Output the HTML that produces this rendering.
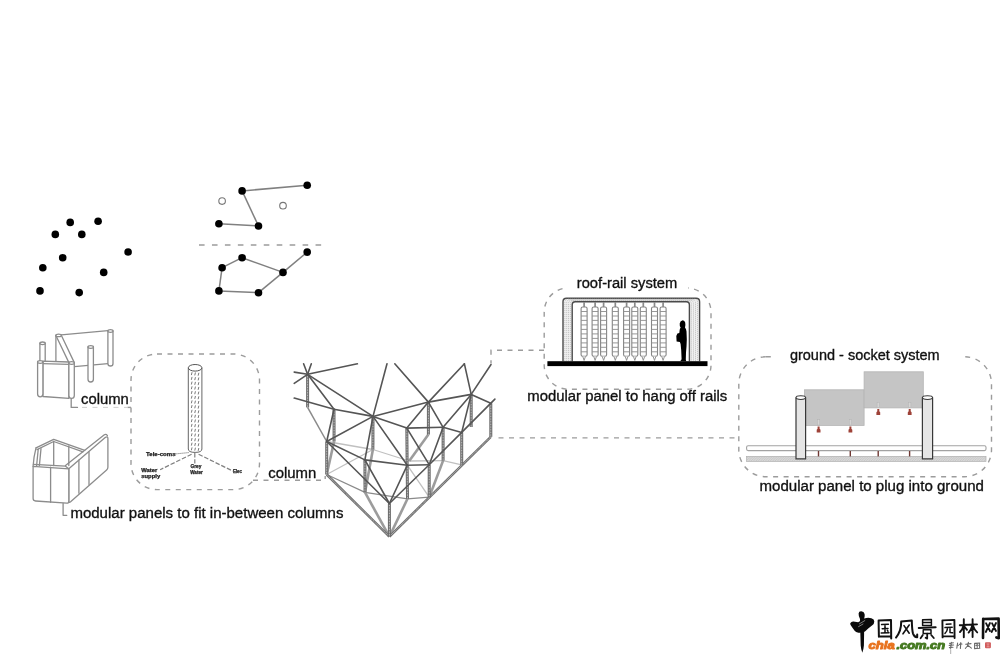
<!DOCTYPE html>
<html><head><meta charset="utf-8"><title>diagram</title>
<style>
html,body{margin:0;padding:0;background:#fff;}
body{width:1000px;height:654px;overflow:hidden;font-family:"Liberation Sans",sans-serif;}
svg{display:block;will-change:transform;filter:blur(0.35px);}
text{font-family:"Liberation Sans",sans-serif;fill:#111;}
.gl{stroke:#808080;stroke-width:1.5;fill:none;}
.dash{stroke:#9c9c9c;stroke-width:1.4;stroke-dasharray:5 5.5;fill:none;}
.dl{stroke:#555;stroke-width:1.6;stroke-linecap:round;fill:none;}
.tl{stroke:#c0c0c0;stroke-width:1.3;fill:none;}
.fl2{stroke:#8a8a8a;stroke-width:1.5;fill:none;}
.fl{stroke:#8a8a8a;stroke-width:1.2;fill:none;}
.kl{stroke:#9c9c9c;stroke-width:2.6;fill:none;}
.kd{stroke:#707070;stroke-width:2.5;fill:none;}
.col{stroke:#6a6a6a;stroke-width:3;fill:none;}
.colin{stroke:#cdcdcd;stroke-width:1;stroke-dasharray:0.9 0.7;fill:none;}
.sk{stroke:#8c8c8c;stroke-width:1.3;fill:#fff;stroke-linejoin:round;stroke-linecap:round;}
.skn{stroke:#8c8c8c;stroke-width:1.3;fill:none;stroke-linejoin:round;stroke-linecap:round;}
.lbl text{font-size:15.5px;stroke:#111;stroke-width:0.35px;}
.lbl rect{stroke:none;}
.tiny{font-size:4.8px;font-weight:bold;fill:#222;stroke:#222;stroke-width:0.25px;}
</style></head>
<body>
<svg width="1000" height="654" viewBox="0 0 1000 654">
<rect width="1000" height="654" fill="#fff"/>
<g id="dots">
<line class="gl" x1="242.1" y1="190.9" x2="307.2" y2="185.3"/>
<line class="gl" x1="242.1" y1="190.9" x2="258.5" y2="226.0"/>
<line class="gl" x1="218.9" y1="223.8" x2="258.5" y2="226.0"/>
<line class="gl" x1="222.1" y1="267.7" x2="242.1" y2="257.7"/>
<line class="gl" x1="242.1" y1="257.7" x2="283.0" y2="272.4"/>
<line class="gl" x1="283.0" y1="272.4" x2="307.2" y2="252.1"/>
<line class="gl" x1="283.0" y1="272.4" x2="258.5" y2="292.7"/>
<line class="gl" x1="258.5" y1="292.7" x2="218.9" y2="290.9"/>
<line class="gl" x1="218.9" y1="290.9" x2="222.1" y2="267.7"/>
<line class="dash" x1="199" y1="245.1" x2="322.6" y2="245.1" style="stroke-dasharray:5.6 7.35;stroke-width:1.5"/>
<circle cx="70.2" cy="222.4" r="3.8" fill="#000"/>
<circle cx="98.1" cy="221.3" r="3.8" fill="#000"/>
<circle cx="55.3" cy="234.4" r="3.8" fill="#000"/>
<circle cx="81.8" cy="234.4" r="3.8" fill="#000"/>
<circle cx="128.1" cy="252" r="3.8" fill="#000"/>
<circle cx="62.7" cy="257.7" r="3.8" fill="#000"/>
<circle cx="42.8" cy="267.8" r="3.8" fill="#000"/>
<circle cx="103.7" cy="272.4" r="3.8" fill="#000"/>
<circle cx="40" cy="290.9" r="3.8" fill="#000"/>
<circle cx="79.2" cy="292.6" r="3.8" fill="#000"/>
<circle cx="242.1" cy="190.9" r="3.8" fill="#000"/>
<circle cx="307.2" cy="185.3" r="3.8" fill="#000"/>
<circle cx="218.9" cy="223.8" r="3.8" fill="#000"/>
<circle cx="258.5" cy="226.0" r="3.8" fill="#000"/>
<circle cx="307.2" cy="252.1" r="3.8" fill="#000"/>
<circle cx="242.1" cy="257.7" r="3.8" fill="#000"/>
<circle cx="222.1" cy="267.7" r="3.8" fill="#000"/>
<circle cx="283.0" cy="272.4" r="3.8" fill="#000"/>
<circle cx="218.9" cy="290.9" r="3.8" fill="#000"/>
<circle cx="258.5" cy="292.7" r="3.8" fill="#000"/>
<circle cx="222.1" cy="201.1" r="3.3" fill="#fff" stroke="#777" stroke-width="1.1"/>
<circle cx="283.0" cy="205.7" r="3.3" fill="#fff" stroke="#777" stroke-width="1.1"/>
</g>
<g id="struct">
<line class="tl" x1="326.7" y1="441.5" x2="372.9" y2="449.5"/>
<line class="tl" x1="326.7" y1="474.5" x2="372.9" y2="449.5"/>
<line class="tl" x1="372.9" y1="449.5" x2="409.2" y2="461.0"/>
<line class="tl" x1="407.3" y1="465.2" x2="429.2" y2="497.2"/>
<line class="tl" x1="409.2" y1="461.0" x2="443.1" y2="460.6"/>
<line class="tl" x1="443.1" y1="460.6" x2="461.7" y2="464.8"/>
<line class="fl" x1="326.7" y1="474.5" x2="365.0" y2="492.4"/>
<line class="fl" x1="365.0" y1="492.4" x2="407.5" y2="498.8"/>
<line class="fl" x1="407.5" y1="498.8" x2="429.2" y2="497.2"/>
<line class="fl2" x1="307.6" y1="407.4" x2="326.7" y2="441.5"/>
<line class="kl" x1="334.1" y1="441.5" x2="326.7" y2="474.5"/>
<line class="kl" x1="372.9" y1="449.5" x2="365.0" y2="492.4"/>
<line class="kl" x1="428.4" y1="434.6" x2="409.2" y2="461.0"/>
<line class="kl" x1="443.1" y1="460.6" x2="429.2" y2="497.2"/>
<line class="kl" x1="407.5" y1="498.8" x2="389.4" y2="536.6"/>
<line class="kl" x1="365.0" y1="492.4" x2="389.4" y2="536.6"/>
<line class="kd" x1="326.7" y1="474.5" x2="389.4" y2="536.6"/>
<line class="colin" x1="326.7" y1="474.5" x2="389.4" y2="536.6"/>
<line class="kd" x1="490.8" y1="436.8" x2="389.4" y2="536.6"/>
<line class="colin" x1="490.8" y1="436.8" x2="389.4" y2="536.6"/>
<line class="col" x1="307.6" y1="374.3" x2="307.6" y2="407.4"/>
<line class="colin" x1="307.6" y1="374.3" x2="307.6" y2="407.4"/>
<line class="col" x1="334.0" y1="409.2" x2="334.1" y2="441.5"/>
<line class="colin" x1="334.0" y1="409.2" x2="334.1" y2="441.5"/>
<line class="col" x1="373.0" y1="416.4" x2="372.9" y2="449.5"/>
<line class="colin" x1="373.0" y1="416.4" x2="372.9" y2="449.5"/>
<line class="col" x1="326.7" y1="441.5" x2="326.7" y2="474.5"/>
<line class="colin" x1="326.7" y1="441.5" x2="326.7" y2="474.5"/>
<line class="col" x1="428.4" y1="402.1" x2="428.4" y2="434.6"/>
<line class="colin" x1="428.4" y1="402.1" x2="428.4" y2="434.6"/>
<line class="col" x1="471.2" y1="394.4" x2="471.2" y2="427.0"/>
<line class="colin" x1="471.2" y1="394.4" x2="471.2" y2="427.0"/>
<line class="col" x1="490.8" y1="403.3" x2="490.8" y2="436.8"/>
<line class="colin" x1="490.8" y1="403.3" x2="490.8" y2="436.8"/>
<line class="col" x1="406.8" y1="428.1" x2="407.5" y2="498.8"/>
<line class="colin" x1="406.8" y1="428.1" x2="407.5" y2="498.8"/>
<line class="col" x1="443.1" y1="427.3" x2="443.1" y2="460.6"/>
<line class="colin" x1="443.1" y1="427.3" x2="443.1" y2="460.6"/>
<line class="col" x1="461.7" y1="432.4" x2="461.7" y2="464.8"/>
<line class="colin" x1="461.7" y1="432.4" x2="461.7" y2="464.8"/>
<line class="col" x1="429.2" y1="464.7" x2="429.2" y2="497.2"/>
<line class="colin" x1="429.2" y1="464.7" x2="429.2" y2="497.2"/>
<line class="col" x1="364.9" y1="459.9" x2="365.0" y2="492.4"/>
<line class="colin" x1="364.9" y1="459.9" x2="365.0" y2="492.4"/>
<line class="col" x1="389.4" y1="503.5" x2="389.4" y2="536.6"/>
<line class="colin" x1="389.4" y1="503.5" x2="389.4" y2="536.6"/>
<line class="dl" x1="307.6" y1="374.3" x2="303.6" y2="363.8"/>
<line class="dl" x1="307.6" y1="374.3" x2="311.3" y2="363.8"/>
<line class="dl" x1="307.6" y1="374.3" x2="294.2" y2="372.1"/>
<line class="dl" x1="307.6" y1="374.3" x2="294.2" y2="383.4"/>
<line class="dl" x1="307.6" y1="374.3" x2="357.4" y2="363.8"/>
<line class="dl" x1="294.2" y1="398.1" x2="334.0" y2="409.2"/>
<line class="dl" x1="307.6" y1="374.3" x2="334.0" y2="409.2"/>
<line class="dl" x1="307.6" y1="374.3" x2="373.0" y2="416.4"/>
<line class="dl" x1="334.0" y1="409.2" x2="373.0" y2="416.4"/>
<line class="dl" x1="334.0" y1="409.2" x2="326.7" y2="441.5"/>
<line class="dl" x1="373.0" y1="416.4" x2="326.7" y2="441.5"/>
<line class="dl" x1="373.0" y1="416.4" x2="428.4" y2="402.1"/>
<line class="dl" x1="373.0" y1="416.4" x2="406.8" y2="428.1"/>
<line class="dl" x1="373.0" y1="416.4" x2="407.3" y2="465.2"/>
<line class="dl" x1="373.0" y1="416.4" x2="364.9" y2="459.9"/>
<line class="dl" x1="428.4" y1="402.1" x2="406.8" y2="428.1"/>
<line class="dl" x1="428.4" y1="402.1" x2="471.2" y2="394.4"/>
<line class="dl" x1="428.4" y1="402.1" x2="443.1" y2="427.3"/>
<line class="dl" x1="428.4" y1="402.1" x2="464.4" y2="363.8"/>
<line class="dl" x1="464.4" y1="363.8" x2="471.2" y2="394.4"/>
<line class="dl" x1="471.2" y1="394.4" x2="490.8" y2="403.3"/>
<line class="dl" x1="471.2" y1="394.4" x2="443.1" y2="427.3"/>
<line class="dl" x1="471.2" y1="394.4" x2="461.7" y2="432.4"/>
<line class="dl" x1="406.8" y1="428.1" x2="443.1" y2="427.3"/>
<line class="dl" x1="443.1" y1="427.3" x2="461.7" y2="432.4"/>
<line class="dl" x1="406.8" y1="428.1" x2="429.2" y2="464.7"/>
<line class="dl" x1="443.1" y1="427.3" x2="429.2" y2="464.7"/>
<line class="dl" x1="461.7" y1="432.4" x2="429.2" y2="464.7"/>
<line class="dl" x1="326.7" y1="441.5" x2="364.9" y2="459.9"/>
<line class="dl" x1="326.7" y1="441.5" x2="389.4" y2="503.5"/>
<line class="dl" x1="364.9" y1="459.9" x2="407.3" y2="465.2"/>
<line class="dl" x1="364.9" y1="459.9" x2="389.4" y2="503.5"/>
<line class="dl" x1="407.3" y1="465.2" x2="389.4" y2="503.5"/>
<line class="dl" x1="429.2" y1="464.7" x2="389.4" y2="503.5"/>
<line class="dl" x1="407.3" y1="465.2" x2="429.2" y2="464.7"/>
<line class="dl" x1="373.0" y1="416.4" x2="387.0" y2="363.8"/>
<line class="dl" x1="394.8" y1="363.8" x2="428.4" y2="402.1"/>
<line class="dl" x1="471.2" y1="394.4" x2="491.0" y2="364.5"/>
<line class="dl" x1="461.7" y1="432.4" x2="494.9" y2="399.1"/>
</g>
<g id="sk1">
<!-- back panel lines -->
<path class="skn" d="M61.3 334.8L107.9 330.7M74.3 366.6L107.9 363.6"/>
<!-- back right post P3 -->
<path class="sk" d="M107.9 331V363.4Q107.9 366 110.5 366Q113 366 113 363.4V331"/>
<ellipse class="sk" cx="110.45" cy="331" rx="2.55" ry="1.3"/>
<!-- back left small post P1 -->
<path class="sk" d="M39.9 343.3V362H45.2V343.3"/>
<ellipse class="sk" cx="42.55" cy="343.3" rx="2.65" ry="1.3"/>
<!-- P2 post with diagonal -->
<path class="skn" d="M55.9 335.5V361.4"/>
<path class="sk" d="M55.9 335.5L68.9 362.6L74.3 362.6L61.3 335.2Z"/>
<ellipse class="sk" cx="58.6" cy="335.4" rx="2.7" ry="1.3"/>
<!-- middle front post P5 -->
<path class="sk" d="M88 347V379.2Q88 382 90.7 382Q93.4 382 93.4 379.2V347"/>
<ellipse class="sk" cx="90.7" cy="347" rx="2.7" ry="1.3"/>
<!-- front panel -->
<path class="sk" d="M42.9 361.2L68.9 362V398.3L42.9 396.5Z"/>
<path class="skn" d="M42.9 363.6L68.9 364.4"/>
<path class="sk" d="M37.6 362V394Q37.6 396.8 40.2 396.8Q42.9 396.8 42.9 394V362"/>
<ellipse class="sk" cx="40.25" cy="362" rx="2.65" ry="1.3"/>
<path class="sk" d="M68.9 363V395.5Q68.9 398.4 71.6 398.4Q74.3 398.4 74.3 395.5V363"/>
<ellipse class="sk" cx="71.6" cy="363" rx="2.7" ry="1.3"/>
</g>

<g id="sk2">
<!-- back faces -->
<path class="skn" d="M36 447.8L53.7 439.4L84.8 450.3"/>
<path class="skn" d="M37 449.6L53.7 441.5L83 451.8"/>
<path class="skn" d="M36 447.8Q33.8 456 33.1 466.3"/>
<path class="skn" d="M41 448.6L39.4 465.5M38.2 449.5L36.6 465.8"/>
<path class="skn" d="M53.7 441.5V465.5M68.8 446V465.5"/>
<!-- right face -->
<path class="sk" d="M68.8 468.8L105.2 437.6Q107.9 435.6 107.9 438.6V467.2Q107.9 468.9 106.6 470L70.6 501.8Q68.8 503.3 68.8 501Z"/>
<path class="skn" d="M65.5 465.5L104 435Q106 433.6 107.4 435.6"/>
<path class="skn" d="M78.9 460.2V493.2M89 452V484.6"/>
<!-- front face -->
<path class="sk" d="M33.1 466.3L68.8 468.8V501Q68.8 503.4 66.8 503.2L35.6 501Q33.1 500.8 33.1 498.5Z"/>
<path class="skn" d="M33.4 464.4L65.5 466.2L68.8 468.8"/>
<path class="skn" d="M50.6 467.1V502.3"/>
</g>

<g id="detail">
<rect class="dash" x="131" y="354" width="128.5" height="135.6" rx="26" ry="26"/>
<!-- column -->
<path d="M188.3 367.8V449 Q188.3 452.4 195.1 452.4 Q201.9 452.4 201.9 449V367.8" fill="#fff" stroke="#666" stroke-width="1"/>
<ellipse cx="195.1" cy="367.8" rx="6.8" ry="3.3" fill="#fff" stroke="#555" stroke-width="1"/>
<path d="M192.05 372.2L191.35 375.1M192.05 376.9L191.35 379.8M192.05 381.6L191.35 384.5M192.05 386.3L191.35 389.2M192.05 391.0L191.35 393.9M192.05 395.7L191.35 398.6M192.05 400.4L191.35 403.3M192.05 405.1L191.35 408.0M192.05 409.8L191.35 412.7M192.05 414.5L191.35 417.4M192.05 419.2L191.35 422.1M192.05 423.9L191.35 426.8M192.05 428.6L191.35 431.5M192.05 433.3L191.35 436.2M192.05 438.0L191.35 440.9M192.05 442.7L191.35 445.6M192.05 447.4L191.35 450.3M195.45 372.5L194.75 375.4M195.45 377.2L194.75 380.1M195.45 381.9L194.75 384.8M195.45 386.6L194.75 389.5M195.45 391.3L194.75 394.2M195.45 396.0L194.75 398.9M195.45 400.7L194.75 403.6M195.45 405.4L194.75 408.3M195.45 410.1L194.75 413.0M195.45 414.8L194.75 417.7M195.45 419.5L194.75 422.4M195.45 424.2L194.75 427.1M195.45 428.9L194.75 431.8M195.45 433.6L194.75 436.5M195.45 438.3L194.75 441.2M195.45 443.0L194.75 445.9M195.45 447.7L194.75 450.6M198.85 372.8L198.15 375.7M198.85 377.5L198.15 380.4M198.85 382.2L198.15 385.1M198.85 386.9L198.15 389.8M198.85 391.6L198.15 394.5M198.85 396.3L198.15 399.2M198.85 401.0L198.15 403.9M198.85 405.7L198.15 408.6M198.85 410.4L198.15 413.3M198.85 415.1L198.15 418.0M198.85 419.8L198.15 422.7M198.85 424.5L198.15 427.4M198.85 429.2L198.15 432.1M198.85 433.9L198.15 436.8M198.85 438.6L198.15 441.5M198.85 443.3L198.15 446.2M198.85 448.0L198.15 450.9" stroke="#7a7a7a" stroke-width="1" fill="none"/>
<line x1="175.5" y1="453.9" x2="188.8" y2="452.6" stroke="#777" stroke-width="1" stroke-dasharray="1.2 0.8"/>
<line x1="191.6" y1="454.3" x2="160.1" y2="469.7" stroke="#808080" stroke-width="1.2" stroke-dasharray="4.5 1.8"/>
<line x1="194.8" y1="453" x2="194.8" y2="463.4" stroke="#808080" stroke-width="1.2" stroke-dasharray="4.5 1.8"/>
<line x1="198.6" y1="454.3" x2="232.9" y2="471.1" stroke="#808080" stroke-width="1.2" stroke-dasharray="4.5 1.8"/>
<text class="tiny" x="146.1" y="455.5" textLength="29.4" lengthAdjust="spacingAndGlyphs">Tele-coms</text>
<text class="tiny" x="141.2" y="472" textLength="16" lengthAdjust="spacingAndGlyphs">Water</text>
<text class="tiny" x="141.2" y="478.3" textLength="19" lengthAdjust="spacingAndGlyphs">supply</text>
<text class="tiny" x="190.4" y="467.8" textLength="11" lengthAdjust="spacingAndGlyphs">Grey</text>
<text class="tiny" x="190.2" y="473.8" textLength="12.6" lengthAdjust="spacingAndGlyphs">Water</text>
<text class="tiny" x="232.9" y="473.4" textLength="9.1" lengthAdjust="spacingAndGlyphs">Elec</text>
</g>

<g id="roof">
<rect class="dash" x="544.2" y="288" width="166.8" height="101.2" rx="24" ry="24"/>
<rect x="566" y="274" width="122" height="17" fill="#fff"/>
<path d="M563.0 361.2V301.8Q563.0 298.3 566.5 298.3H696.1Q699.6 298.3 699.6 301.8V361.2H689.4V304.8Q689.4 301.8 686.4 301.8H575.2Q572.2 301.8 572.2 304.8V361.2Z" fill="#f1f1f1"/>
<path d="M563.00 361.2V301.80Q563.00 298.30 566.50 298.30H696.10Q699.60 298.30 699.60 301.80V361.2" fill="none" stroke="#4a4a4a" stroke-width="1.4"/>
<path d="M564.84 361.2V302.40Q564.84 299.00 568.24 299.00H694.16Q697.56 299.00 697.56 302.40V361.2" fill="none" stroke="#a8a8a8" stroke-width="0.6" stroke-dasharray="1.2 0.8"/>
<path d="M566.68 361.2V303.00Q566.68 299.70 569.98 299.70H692.22Q695.52 299.70 695.52 303.00V361.2" fill="none" stroke="#a8a8a8" stroke-width="0.6" stroke-dasharray="1.2 0.8"/>
<path d="M568.52 361.2V303.60Q568.52 300.40 571.72 300.40H690.28Q693.48 300.40 693.48 303.60V361.2" fill="none" stroke="#a8a8a8" stroke-width="0.6" stroke-dasharray="1.2 0.8"/>
<path d="M570.36 361.2V304.20Q570.36 301.10 573.46 301.10H688.34Q691.44 301.10 691.44 304.20V361.2" fill="none" stroke="#a8a8a8" stroke-width="0.6" stroke-dasharray="1.2 0.8"/>
<path d="M572.20 361.2V304.80Q572.20 301.80 575.20 301.80H686.40Q689.40 301.80 689.40 304.80V361.2" fill="none" stroke="#4a4a4a" stroke-width="1.4"/>
<line x1="584.1" y1="302" x2="584.1" y2="307.4" stroke="#8a8a8a" stroke-width="1.7"/>
<rect x="581.1" y="307" width="6" height="49.3" rx="1.6" fill="#fff" stroke="#858585" stroke-width="1.1"/>
<line x1="581.1" y1="311.5" x2="587.1" y2="311.5" stroke="#8c8c8c" stroke-width="0.9"/>
<line x1="581.1" y1="316.0" x2="587.1" y2="316.0" stroke="#8c8c8c" stroke-width="0.9"/>
<line x1="581.1" y1="320.4" x2="587.1" y2="320.4" stroke="#8c8c8c" stroke-width="0.9"/>
<line x1="581.1" y1="324.9" x2="587.1" y2="324.9" stroke="#8c8c8c" stroke-width="0.9"/>
<line x1="581.1" y1="329.4" x2="587.1" y2="329.4" stroke="#8c8c8c" stroke-width="0.9"/>
<line x1="581.1" y1="333.9" x2="587.1" y2="333.9" stroke="#8c8c8c" stroke-width="0.9"/>
<line x1="581.1" y1="338.4" x2="587.1" y2="338.4" stroke="#8c8c8c" stroke-width="0.9"/>
<line x1="581.1" y1="342.9" x2="587.1" y2="342.9" stroke="#8c8c8c" stroke-width="0.9"/>
<line x1="581.1" y1="347.3" x2="587.1" y2="347.3" stroke="#8c8c8c" stroke-width="0.9"/>
<line x1="581.1" y1="351.8" x2="587.1" y2="351.8" stroke="#8c8c8c" stroke-width="0.9"/>
<path d="M582.8 356.6L584.1 360.4L585.4 356.6" fill="#fff" stroke="#858585" stroke-width="0.9"/>
<line x1="595.1" y1="302" x2="595.1" y2="307.4" stroke="#8a8a8a" stroke-width="1.7"/>
<rect x="592.1" y="307" width="6" height="49.3" rx="1.6" fill="#fff" stroke="#858585" stroke-width="1.1"/>
<line x1="592.1" y1="311.5" x2="598.1" y2="311.5" stroke="#8c8c8c" stroke-width="0.9"/>
<line x1="592.1" y1="316.0" x2="598.1" y2="316.0" stroke="#8c8c8c" stroke-width="0.9"/>
<line x1="592.1" y1="320.4" x2="598.1" y2="320.4" stroke="#8c8c8c" stroke-width="0.9"/>
<line x1="592.1" y1="324.9" x2="598.1" y2="324.9" stroke="#8c8c8c" stroke-width="0.9"/>
<line x1="592.1" y1="329.4" x2="598.1" y2="329.4" stroke="#8c8c8c" stroke-width="0.9"/>
<line x1="592.1" y1="333.9" x2="598.1" y2="333.9" stroke="#8c8c8c" stroke-width="0.9"/>
<line x1="592.1" y1="338.4" x2="598.1" y2="338.4" stroke="#8c8c8c" stroke-width="0.9"/>
<line x1="592.1" y1="342.9" x2="598.1" y2="342.9" stroke="#8c8c8c" stroke-width="0.9"/>
<line x1="592.1" y1="347.3" x2="598.1" y2="347.3" stroke="#8c8c8c" stroke-width="0.9"/>
<line x1="592.1" y1="351.8" x2="598.1" y2="351.8" stroke="#8c8c8c" stroke-width="0.9"/>
<path d="M593.8 356.6L595.1 360.4L596.4 356.6" fill="#fff" stroke="#858585" stroke-width="0.9"/>
<line x1="603.6" y1="302" x2="603.6" y2="307.4" stroke="#8a8a8a" stroke-width="1.7"/>
<rect x="600.6" y="307" width="6" height="49.3" rx="1.6" fill="#fff" stroke="#858585" stroke-width="1.1"/>
<line x1="600.6" y1="311.5" x2="606.6" y2="311.5" stroke="#8c8c8c" stroke-width="0.9"/>
<line x1="600.6" y1="316.0" x2="606.6" y2="316.0" stroke="#8c8c8c" stroke-width="0.9"/>
<line x1="600.6" y1="320.4" x2="606.6" y2="320.4" stroke="#8c8c8c" stroke-width="0.9"/>
<line x1="600.6" y1="324.9" x2="606.6" y2="324.9" stroke="#8c8c8c" stroke-width="0.9"/>
<line x1="600.6" y1="329.4" x2="606.6" y2="329.4" stroke="#8c8c8c" stroke-width="0.9"/>
<line x1="600.6" y1="333.9" x2="606.6" y2="333.9" stroke="#8c8c8c" stroke-width="0.9"/>
<line x1="600.6" y1="338.4" x2="606.6" y2="338.4" stroke="#8c8c8c" stroke-width="0.9"/>
<line x1="600.6" y1="342.9" x2="606.6" y2="342.9" stroke="#8c8c8c" stroke-width="0.9"/>
<line x1="600.6" y1="347.3" x2="606.6" y2="347.3" stroke="#8c8c8c" stroke-width="0.9"/>
<line x1="600.6" y1="351.8" x2="606.6" y2="351.8" stroke="#8c8c8c" stroke-width="0.9"/>
<path d="M602.3 356.6L603.6 360.4L604.9 356.6" fill="#fff" stroke="#858585" stroke-width="0.9"/>
<line x1="615.3" y1="302" x2="615.3" y2="307.4" stroke="#8a8a8a" stroke-width="1.7"/>
<rect x="612.3" y="307" width="6" height="49.3" rx="1.6" fill="#fff" stroke="#858585" stroke-width="1.1"/>
<line x1="612.3" y1="311.5" x2="618.3" y2="311.5" stroke="#8c8c8c" stroke-width="0.9"/>
<line x1="612.3" y1="316.0" x2="618.3" y2="316.0" stroke="#8c8c8c" stroke-width="0.9"/>
<line x1="612.3" y1="320.4" x2="618.3" y2="320.4" stroke="#8c8c8c" stroke-width="0.9"/>
<line x1="612.3" y1="324.9" x2="618.3" y2="324.9" stroke="#8c8c8c" stroke-width="0.9"/>
<line x1="612.3" y1="329.4" x2="618.3" y2="329.4" stroke="#8c8c8c" stroke-width="0.9"/>
<line x1="612.3" y1="333.9" x2="618.3" y2="333.9" stroke="#8c8c8c" stroke-width="0.9"/>
<line x1="612.3" y1="338.4" x2="618.3" y2="338.4" stroke="#8c8c8c" stroke-width="0.9"/>
<line x1="612.3" y1="342.9" x2="618.3" y2="342.9" stroke="#8c8c8c" stroke-width="0.9"/>
<line x1="612.3" y1="347.3" x2="618.3" y2="347.3" stroke="#8c8c8c" stroke-width="0.9"/>
<line x1="612.3" y1="351.8" x2="618.3" y2="351.8" stroke="#8c8c8c" stroke-width="0.9"/>
<path d="M614.0 356.6L615.3 360.4L616.6 356.6" fill="#fff" stroke="#858585" stroke-width="0.9"/>
<line x1="626.6" y1="302" x2="626.6" y2="307.4" stroke="#8a8a8a" stroke-width="1.7"/>
<rect x="623.6" y="307" width="6" height="49.3" rx="1.6" fill="#fff" stroke="#858585" stroke-width="1.1"/>
<line x1="623.6" y1="311.5" x2="629.6" y2="311.5" stroke="#8c8c8c" stroke-width="0.9"/>
<line x1="623.6" y1="316.0" x2="629.6" y2="316.0" stroke="#8c8c8c" stroke-width="0.9"/>
<line x1="623.6" y1="320.4" x2="629.6" y2="320.4" stroke="#8c8c8c" stroke-width="0.9"/>
<line x1="623.6" y1="324.9" x2="629.6" y2="324.9" stroke="#8c8c8c" stroke-width="0.9"/>
<line x1="623.6" y1="329.4" x2="629.6" y2="329.4" stroke="#8c8c8c" stroke-width="0.9"/>
<line x1="623.6" y1="333.9" x2="629.6" y2="333.9" stroke="#8c8c8c" stroke-width="0.9"/>
<line x1="623.6" y1="338.4" x2="629.6" y2="338.4" stroke="#8c8c8c" stroke-width="0.9"/>
<line x1="623.6" y1="342.9" x2="629.6" y2="342.9" stroke="#8c8c8c" stroke-width="0.9"/>
<line x1="623.6" y1="347.3" x2="629.6" y2="347.3" stroke="#8c8c8c" stroke-width="0.9"/>
<line x1="623.6" y1="351.8" x2="629.6" y2="351.8" stroke="#8c8c8c" stroke-width="0.9"/>
<path d="M625.3 356.6L626.6 360.4L627.9 356.6" fill="#fff" stroke="#858585" stroke-width="0.9"/>
<line x1="634.8" y1="302" x2="634.8" y2="307.4" stroke="#8a8a8a" stroke-width="1.7"/>
<rect x="631.8" y="307" width="6" height="49.3" rx="1.6" fill="#fff" stroke="#858585" stroke-width="1.1"/>
<line x1="631.8" y1="311.5" x2="637.8" y2="311.5" stroke="#8c8c8c" stroke-width="0.9"/>
<line x1="631.8" y1="316.0" x2="637.8" y2="316.0" stroke="#8c8c8c" stroke-width="0.9"/>
<line x1="631.8" y1="320.4" x2="637.8" y2="320.4" stroke="#8c8c8c" stroke-width="0.9"/>
<line x1="631.8" y1="324.9" x2="637.8" y2="324.9" stroke="#8c8c8c" stroke-width="0.9"/>
<line x1="631.8" y1="329.4" x2="637.8" y2="329.4" stroke="#8c8c8c" stroke-width="0.9"/>
<line x1="631.8" y1="333.9" x2="637.8" y2="333.9" stroke="#8c8c8c" stroke-width="0.9"/>
<line x1="631.8" y1="338.4" x2="637.8" y2="338.4" stroke="#8c8c8c" stroke-width="0.9"/>
<line x1="631.8" y1="342.9" x2="637.8" y2="342.9" stroke="#8c8c8c" stroke-width="0.9"/>
<line x1="631.8" y1="347.3" x2="637.8" y2="347.3" stroke="#8c8c8c" stroke-width="0.9"/>
<line x1="631.8" y1="351.8" x2="637.8" y2="351.8" stroke="#8c8c8c" stroke-width="0.9"/>
<path d="M633.5 356.6L634.8 360.4L636.1 356.6" fill="#fff" stroke="#858585" stroke-width="0.9"/>
<line x1="643.3" y1="302" x2="643.3" y2="307.4" stroke="#8a8a8a" stroke-width="1.7"/>
<rect x="640.3" y="307" width="6" height="49.3" rx="1.6" fill="#fff" stroke="#858585" stroke-width="1.1"/>
<line x1="640.3" y1="311.5" x2="646.3" y2="311.5" stroke="#8c8c8c" stroke-width="0.9"/>
<line x1="640.3" y1="316.0" x2="646.3" y2="316.0" stroke="#8c8c8c" stroke-width="0.9"/>
<line x1="640.3" y1="320.4" x2="646.3" y2="320.4" stroke="#8c8c8c" stroke-width="0.9"/>
<line x1="640.3" y1="324.9" x2="646.3" y2="324.9" stroke="#8c8c8c" stroke-width="0.9"/>
<line x1="640.3" y1="329.4" x2="646.3" y2="329.4" stroke="#8c8c8c" stroke-width="0.9"/>
<line x1="640.3" y1="333.9" x2="646.3" y2="333.9" stroke="#8c8c8c" stroke-width="0.9"/>
<line x1="640.3" y1="338.4" x2="646.3" y2="338.4" stroke="#8c8c8c" stroke-width="0.9"/>
<line x1="640.3" y1="342.9" x2="646.3" y2="342.9" stroke="#8c8c8c" stroke-width="0.9"/>
<line x1="640.3" y1="347.3" x2="646.3" y2="347.3" stroke="#8c8c8c" stroke-width="0.9"/>
<line x1="640.3" y1="351.8" x2="646.3" y2="351.8" stroke="#8c8c8c" stroke-width="0.9"/>
<path d="M642.0 356.6L643.3 360.4L644.6 356.6" fill="#fff" stroke="#858585" stroke-width="0.9"/>
<line x1="654.5" y1="302" x2="654.5" y2="307.4" stroke="#8a8a8a" stroke-width="1.7"/>
<rect x="651.5" y="307" width="6" height="49.3" rx="1.6" fill="#fff" stroke="#858585" stroke-width="1.1"/>
<line x1="651.5" y1="311.5" x2="657.5" y2="311.5" stroke="#8c8c8c" stroke-width="0.9"/>
<line x1="651.5" y1="316.0" x2="657.5" y2="316.0" stroke="#8c8c8c" stroke-width="0.9"/>
<line x1="651.5" y1="320.4" x2="657.5" y2="320.4" stroke="#8c8c8c" stroke-width="0.9"/>
<line x1="651.5" y1="324.9" x2="657.5" y2="324.9" stroke="#8c8c8c" stroke-width="0.9"/>
<line x1="651.5" y1="329.4" x2="657.5" y2="329.4" stroke="#8c8c8c" stroke-width="0.9"/>
<line x1="651.5" y1="333.9" x2="657.5" y2="333.9" stroke="#8c8c8c" stroke-width="0.9"/>
<line x1="651.5" y1="338.4" x2="657.5" y2="338.4" stroke="#8c8c8c" stroke-width="0.9"/>
<line x1="651.5" y1="342.9" x2="657.5" y2="342.9" stroke="#8c8c8c" stroke-width="0.9"/>
<line x1="651.5" y1="347.3" x2="657.5" y2="347.3" stroke="#8c8c8c" stroke-width="0.9"/>
<line x1="651.5" y1="351.8" x2="657.5" y2="351.8" stroke="#8c8c8c" stroke-width="0.9"/>
<path d="M653.2 356.6L654.5 360.4L655.8 356.6" fill="#fff" stroke="#858585" stroke-width="0.9"/>
<line x1="663.1" y1="302" x2="663.1" y2="307.4" stroke="#8a8a8a" stroke-width="1.7"/>
<rect x="660.1" y="307" width="6" height="49.3" rx="1.6" fill="#fff" stroke="#858585" stroke-width="1.1"/>
<line x1="660.1" y1="311.5" x2="666.1" y2="311.5" stroke="#8c8c8c" stroke-width="0.9"/>
<line x1="660.1" y1="316.0" x2="666.1" y2="316.0" stroke="#8c8c8c" stroke-width="0.9"/>
<line x1="660.1" y1="320.4" x2="666.1" y2="320.4" stroke="#8c8c8c" stroke-width="0.9"/>
<line x1="660.1" y1="324.9" x2="666.1" y2="324.9" stroke="#8c8c8c" stroke-width="0.9"/>
<line x1="660.1" y1="329.4" x2="666.1" y2="329.4" stroke="#8c8c8c" stroke-width="0.9"/>
<line x1="660.1" y1="333.9" x2="666.1" y2="333.9" stroke="#8c8c8c" stroke-width="0.9"/>
<line x1="660.1" y1="338.4" x2="666.1" y2="338.4" stroke="#8c8c8c" stroke-width="0.9"/>
<line x1="660.1" y1="342.9" x2="666.1" y2="342.9" stroke="#8c8c8c" stroke-width="0.9"/>
<line x1="660.1" y1="347.3" x2="666.1" y2="347.3" stroke="#8c8c8c" stroke-width="0.9"/>
<line x1="660.1" y1="351.8" x2="666.1" y2="351.8" stroke="#8c8c8c" stroke-width="0.9"/>
<path d="M661.8 356.6L663.1 360.4L664.4 356.6" fill="#fff" stroke="#858585" stroke-width="0.9"/>
<rect x="547.4" y="361.2" width="160.1" height="4.9" fill="#000"/>
<path d="M682.8 320.2Q684.6 320.6 685.2 322.6Q685.7 325 685 327.4Q686.3 328.8 686.5 331.5L686.8 339.5L686.5 346.5L686 352.5L685.8 359.4L686.2 361.3H680.2L681.6 359.3L681.2 350L680.6 344L679.9 342L676.6 341.6L676.3 336L677.4 333.4L679.3 333L679.7 329.8Q679.9 328.4 680.7 327.8Q679.4 325.8 679.7 323.6Q680.2 320.6 682.8 320.2Z" fill="#000"/>
</g>
<g id="ground">
<rect class="dash" x="738.8" y="356.8" width="252.7" height="119.9" rx="27" ry="27"/>
<rect x="772" y="345" width="188.5" height="18" fill="#fff"/>
<defs><pattern id="cpat" width="1.6" height="1.6" patternUnits="userSpaceOnUse"><rect width="1.6" height="1.6" fill="#fff"/><path d="M0 0.8H1.6M0.8 0V1.6" stroke="#c4c4c4" stroke-width="0.4"/></pattern><pattern id="gpat" width="2.4" height="2.4" patternUnits="userSpaceOnUse"><rect width="2.4" height="2.4" fill="#d8d8d8"/><path d="M0 2.4L2.4 0" stroke="#bcbcbc" stroke-width="0.6"/></pattern></defs>
<rect x="746.6" y="445.8" width="239.4" height="4.8" rx="1.5" fill="#fff" stroke="#a2a2a2" stroke-width="1.1"/>
<rect x="746.6" y="456.4" width="239.4" height="5" fill="url(#gpat)" stroke="#b0b0b0" stroke-width="0.7"/>
<rect x="817.8" y="451" width="1.4" height="5.4" fill="#6e3833"/>
<rect x="849.6" y="451" width="1.4" height="5.4" fill="#6e3833"/>
<rect x="877.5" y="451" width="1.4" height="5.4" fill="#6e3833"/>
<rect x="908.9" y="451" width="1.4" height="5.4" fill="#6e3833"/>
<rect x="804.4" y="389.8" width="59.7" height="35.6" fill="#c5c5c5" stroke="#b4b4b4" stroke-width="0.8"/>
<rect x="864.1" y="371.8" width="59.2" height="36.1" fill="#c5c5c5" stroke="#b4b4b4" stroke-width="0.8"/>
<path d="M796.0 397.6V458.9H805.6V397.6" fill="url(#cpat)" stroke="#383838" stroke-width="1.2"/>
<ellipse cx="800.80" cy="397.6" rx="4.80" ry="1.9" fill="#fff" stroke="#383838" stroke-width="1.1"/>
<path d="M922.4 397.6V458.9H932.6V397.6" fill="url(#cpat)" stroke="#383838" stroke-width="1.2"/>
<ellipse cx="927.50" cy="397.6" rx="5.10" ry="1.9" fill="#fff" stroke="#383838" stroke-width="1.1"/>
<rect x="817.4" y="419.8" width="2.4" height="5.2" fill="#d4d4d4" stroke="#b0b0b0" stroke-width="0.4"/>
<path d="M817.6 426.6H819.6V428.8L820.5 429.8V432.6H816.7V429.8L817.6 428.8Z" fill="#9e4238"/>
<rect x="849.2" y="419.8" width="2.4" height="5.2" fill="#d4d4d4" stroke="#b0b0b0" stroke-width="0.4"/>
<path d="M849.4 426.6H851.4V428.8L852.3 429.8V432.6H848.5V429.8L849.4 428.8Z" fill="#9e4238"/>
<rect x="877.1" y="402.3" width="2.4" height="5.2" fill="#d4d4d4" stroke="#b0b0b0" stroke-width="0.4"/>
<path d="M877.3 409.1H879.3V411.3L880.2 412.3V415.1H876.4V412.3L877.3 411.3Z" fill="#9e4238"/>
<rect x="908.5" y="402.3" width="2.4" height="5.2" fill="#d4d4d4" stroke="#b0b0b0" stroke-width="0.4"/>
<path d="M908.7 409.1H910.7V411.3L911.6 412.3V415.1H907.8V412.3L908.7 411.3Z" fill="#9e4238"/>
</g>
<!-- leaders -->
<g id="leaders">
<path class="skn" d="M71.2 398.8V407.4H77.5"/><path class="dash" d="M82 407.4H127" style="stroke:#cfcfcf;stroke-width:1"/><path class="dash" d="M127.5 407.4H131" style="stroke-dasharray:none"/>
<path class="dash" d="M253 480.3H325.2V476"/>
<path class="dash" d="M544 350.3H491V363.5"/>
<path class="dash" d="M498.5 437.9H739"/>
<path class="skn" d="M63.1 503.5V515.3H66.8"/>
</g>
<!-- labels -->
<g id="labels" class="lbl" style="opacity:0.999">
<rect x="79" y="391" width="51" height="15" fill="#fff"/>
<text x="81" y="404.4" textLength="47.8" lengthAdjust="spacingAndGlyphs">column</text>
<rect x="266" y="464" width="52" height="15" fill="#fff"/>
<text x="268.2" y="477.5" textLength="48" lengthAdjust="spacingAndGlyphs">column</text>
<text x="70.4" y="518.4" textLength="273" lengthAdjust="spacingAndGlyphs">modular panels to fit in-between columns</text>
<text x="576.8" y="288" textLength="100.5" lengthAdjust="spacingAndGlyphs">roof-rail system</text>
<text x="527.3" y="401.4" textLength="200" lengthAdjust="spacingAndGlyphs">modular panel to hang off rails</text>
<text x="789.9" y="359.5" textLength="149.8" lengthAdjust="spacingAndGlyphs">ground - socket system</text>
<text x="759.5" y="491" textLength="224.4" lengthAdjust="spacingAndGlyphs">modular panel to plug into ground</text>
</g>
<g id="wm">
<!-- zhong -->
<path d="M850.2 623.2Q851.5 621.2 853.4 621.4L858.2 622.3L864.2 618.4Q868 617.4 871.4 618.2Q874.4 619.2 874.3 621.4Q874.2 623.6 872.6 625L868.2 628.4L865 631.5Q861.6 633.2 858.4 632.7Q855.8 632 854.4 630.4L851.6 626.4Q850 624.6 850.2 623.2Z" fill="#0a0a0a"/>
<path d="M858.6 613.6Q858.8 611.2 861.2 611.3Q864 611.4 864.6 614Q865 616 864.2 618.6L864.1 634L863.9 645.5Q863.6 649.5 862.3 652.8Q861 649.5 860.7 645.5L860.3 632L860 619Q858.4 616 858.6 613.6Z" fill="#0a0a0a"/>
<path d="M859.5 623.8L864.8 620.6M858.6 626.6L863 624" stroke="#fff" stroke-width="0.6" fill="none" stroke-linecap="round" opacity="0.8"/>
<g fill="none" stroke="#111" stroke-width="1.9" stroke-linecap="round" stroke-linejoin="round">
<!-- guo -->
<path d="M878.6 620.4L878.9 636.8M878.6 620.6L891 619.9L891.2 638.4M879.2 636.5L891 636.3" stroke-width="2"/>
<path d="M881.6 624.6L888.4 624.2M882.2 628.8L888 628.6M881.2 633L889 632.8M885 624.4V632.8M887.4 630.4L888 631.2" stroke-width="1.5"/>
<!-- feng -->
<path d="M901.2 621.6Q901.4 631 896 637.6M901.2 621.6L911.8 620.6Q912 630 913 633.6Q914.4 637.4 917.2 637.2L917.2 634.6" stroke-width="2"/>
<path d="M904 625.6L909.2 633.2M909.2 625L903 633.8" stroke-width="1.6"/>
<!-- jing -->
<path d="M922.6 619.8V625.4M922.6 619.8L931.4 619.4V625.4M922.8 622.5H931.2M922.8 625.5H931.4" stroke-width="1.5"/>
<path d="M918.8 628L935.6 627.2" stroke-width="2.1"/>
<path d="M923.2 630.2V633.4H931V629.8H923.2" stroke-width="1.5"/>
<path d="M927.2 633.6V638.6L925.6 637.8M922.8 635L920.6 638.2M931.2 635L933.8 638" stroke-width="1.8"/>
<!-- yuan -->
<path d="M942.4 620.4L942.6 637.4M942.4 620.4L954.4 619.9L954.6 638M943 636.4L954.4 636.2" stroke-width="1.9"/>
<path d="M946.2 624.2L951 624M945 627.6L952.2 627.3M947.6 627.8Q947.4 631.4 945 633.4M950 627.6V632.4L952.6 632.8" stroke-width="1.5"/>
<!-- lin -->
<path d="M959.8 625.2L967.4 624.8M963.8 619.2V637.2M963.6 625.6Q962.6 629.6 960 632M964 626L967 629.8" stroke-width="1.9"/>
<path d="M968.6 624.8L977 624.4M972.6 619.2V637M972.4 625.2Q971.2 630 968.6 632.6M972.8 625.2Q974.4 630 977.2 632.4" stroke-width="1.9"/>
<!-- wang -->
<path d="M983.2 618.8L983 638M983.2 619L998.6 618.6L998.8 638.2L996.4 637.4" stroke-width="2.6"/>
<path d="M986 623.2L990 631M990 623L985.8 632M992 623.2L996 631M996 623L991.6 632" stroke-width="1.8"/>
</g>
<!-- url -->
<g font-family="Liberation Sans, sans-serif" font-weight="bold" font-style="italic" font-size="11.6px">
<text x="868.6" y="649.3" textLength="26.2" lengthAdjust="spacingAndGlyphs" style="fill:#e8731f;stroke:#e8731f;stroke-width:1;stroke-linejoin:round">chla</text>
<text x="896.4" y="649.3" textLength="48.8" lengthAdjust="spacingAndGlyphs" style="fill:#467a22;stroke:#467a22;stroke-width:1;stroke-linejoin:round">.com.cn</text>
</g>
<!-- small grey chars -->
<g fill="none" stroke="#6a6a6a" stroke-width="1.1" stroke-linecap="round">
<path d="M949.6 643.4L953.4 642.8M949.2 645.4L953.6 645M951.4 642.4L950.6 648.6M949.4 647.6L953 647.2"/>
<path d="M957.6 643L956.8 648.2M959.4 644.4L962 644M960.8 642.6L960.4 648.4M957 645.4L958.6 645.2"/>
<path d="M965.6 644.2L971 643.6M968.4 642.4Q968 646.4 965.4 648.4M968 645.4L971.4 648.2"/>
<path d="M974.6 643.4L979.6 643V648.2M974.6 643.4V648.6L979.8 648.2M976 645.4L978.4 645.2M977.2 644V647.4"/>
</g>
<path d="M950.7 649.4V654" stroke="#999" stroke-width="0.8"/>
<rect x="985" y="642.3" width="5.9" height="6" rx="1" fill="#d05c5c"/>
<path d="M986.6 644H989.4M988 643.6V647M986.6 646.8H989.6" stroke="#f0b0b0" stroke-width="0.6" fill="none"/>
</g>

</svg>
</body></html>
